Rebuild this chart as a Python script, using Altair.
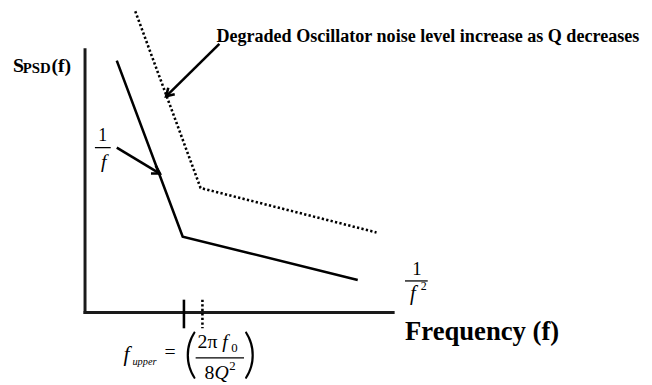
import math
import altair as alt
import pandas as pd

# ---- conceptual data (axis units: frequency 0-10, PSD 0-10) ----
solid_f = [1.03, 3.17, 8.85]
solid_s = [9.59, 2.89, 1.24]
dotted_f = [1.63, 3.75, 9.46]
dotted_s = [11.47, 4.74, 3.05]

axis_len = [10, 10]              # x-axis length, y-axis length
tick_f = [3.21, 3.81]            # f_upper (nominal), f_upper (degraded)
tick_s = [0.49, -0.60]           # tick extent

arrow1_f = [4.36, 2.63]
arrow1_s = [10.23, 8.23]
arrow2_f = [1.03, 2.43]
arrow2_s = [6.28, 5.29]

# ---- scales (axis box inside the plot area) ----
X_RANGE = [78, 390]
Y_RANGE = [306, 40]
xs = alt.Scale(domain=[0, 10], range=X_RANGE)
ys = alt.Scale(domain=[0, 10], range=Y_RANGE)
px_per_x = (X_RANGE[1] - X_RANGE[0]) / 10
px_per_y = (Y_RANGE[0] - Y_RANGE[1]) / 10

FONT = "Liberation Serif"

def X(field):
    return alt.X(f"{field}:Q", scale=xs, axis=None)

def Y(field):
    return alt.Y(f"{field}:Q", scale=ys, axis=None)

solid_df = pd.DataFrame({"f": solid_f, "s": solid_s})
dotted_df = pd.DataFrame({"f": dotted_f, "s": dotted_s})

solid = alt.Chart(solid_df).mark_line(color="black", strokeWidth=2.6).encode(x=X("f"), y=Y("s"))
dotted = alt.Chart(dotted_df).mark_line(color="black", strokeWidth=2.6, strokeDash=[2.3, 2.3]).encode(
    x=X("f"), y=Y("s"))

axes_df = pd.DataFrame({"x0": [0, 0], "y0": [0, 0], "x1": [axis_len[0], 0], "y1": [0, axis_len[1]]})
axes = alt.Chart(axes_df).mark_rule(color="#1a1a1a", strokeWidth=3, strokeCap="square").encode(
    x=X("x0"), y=Y("y0"), x2="x1:Q", y2="y1:Q")

tick_solid = alt.Chart(pd.DataFrame({"f": [tick_f[0]], "s0": [tick_s[0]], "s1": [tick_s[1]]})).mark_rule(
    color="black", strokeWidth=2.6).encode(x=X("f"), y=Y("s0"), y2="s1:Q")
tick_dot = alt.Chart(pd.DataFrame({"f": [tick_f[1]], "s0": [tick_s[0]], "s1": [tick_s[1]]})).mark_rule(
    color="black", strokeWidth=2.6, strokeDash=[2.3, 2.3]).encode(x=X("f"), y=Y("s0"), y2="s1:Q")

def arrow_angle(fl, sl):
    dx = (fl[1] - fl[0]) * px_per_x
    dy = -(sl[1] - sl[0]) * px_per_y
    return math.degrees(math.atan2(dx, -dy)) % 360

arr_df = pd.DataFrame({
    "f0": [arrow1_f[0], arrow2_f[0]], "s0": [arrow1_s[0], arrow2_s[0]],
    "f1": [arrow1_f[1], arrow2_f[1]], "s1": [arrow1_s[1], arrow2_s[1]],
    "angle": [arrow_angle(arrow1_f, arrow1_s), arrow_angle(arrow2_f, arrow2_s)],
})
arrow_lines = alt.Chart(arr_df).mark_rule(color="black", strokeWidth=2.6).encode(
    x=X("f0"), y=Y("s0"), x2="f1:Q", y2="s1:Q")
arrow_heads = alt.Chart(arr_df).mark_point(
    shape="M-0.6,1L0,0L0.6,1", filled=False, color="black", strokeWidth=2.6, size=240, opacity=1
).encode(x=X("f1"), y=Y("s1"), angle=alt.Angle("angle:Q", scale=None))

def txt(t, x, y, size, weight="normal", style="normal", align="left", font=FONT):
    return alt.Chart(pd.DataFrame({"t": [t]})).mark_text(
        font=font, fontSize=size, fontWeight=weight, fontStyle=style, align=align,
        baseline="alphabetic", color="black"
    ).encode(x=alt.value(x), y=alt.value(y), text="t:N")

def bar(x0, x1, y, w=1.3):
    return alt.Chart(pd.DataFrame({"a": [0]})).mark_rule(color="black", strokeWidth=w).encode(
        x=alt.value(x0), x2=alt.value(x1), y=alt.value(y))

texts = [
    txt("Degraded Oscillator noise level increase as Q decreases", 211, 32.5, 18.3, "bold"),
    txt("S", 5, 62, 20, "bold"),
    txt("PSD", 15, 63.5, 15, "bold"),
    txt("(f)", 44, 62, 20, "bold"),
    txt("1", 96, 132, 18, align="center"),
    bar(88, 104, 139),
    txt("f", 97, 160, 20, style="italic", align="center"),
    txt("1", 414, 268, 19, align="center"),
    bar(402, 425, 274),
    txt("f", 410, 293, 21, style="italic", align="center"),
    txt("2", 418, 283, 12),
    txt("Frequency (f)", 402, 334, 27, "bold"),
    txt("f", 117, 355, 22, style="italic"),
    txt("upper", 126, 359, 10.5, style="italic"),
    txt("=", 164, 352, 20, align="center"),
    txt("(", 178, 366, 54, weight=300, font="Lato"),
    txt("2\u03c0", 192, 342, 20),
    txt("f", 217, 342, 20, style="italic"),
    txt("0", 226, 346, 13),
    bar(190, 239, 352),
    txt("8", 199, 373, 20),
    txt("Q", 209, 373, 20, style="italic"),
    txt("2", 224, 364, 13),
    txt(")", 238, 366, 54, weight=300, font="Lato"),
]

chart = alt.layer(
    axes, solid, dotted, tick_solid, tick_dot, arrow_lines, arrow_heads, *texts
).properties(width=644, height=377, padding=0, autosize="none").configure_view(stroke=None)

chart.save("out.html", embed_options={"renderer": "svg", "actions": False})
